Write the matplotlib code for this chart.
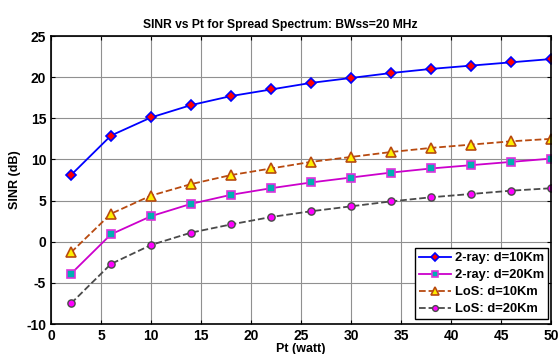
import matplotlib
matplotlib.use('Agg')
import matplotlib.pyplot as plt

plt.rcParams['font.family'] = ['Liberation Sans', 'DejaVu Sans']
plt.rcParams['font.weight'] = 'bold'
plt.rcParams['axes.unicode_minus'] = False

# Дані
pt_watt = [2, 6, 10, 14, 18, 22, 26, 30, 34, 38, 42, 46, 50]
sinr_2ray_10km = [8.1, 12.9, 15.1, 16.6, 17.7, 18.5, 19.3, 19.9, 20.5, 21.0, 21.4, 21.8, 22.2]
sinr_2ray_20km = [-3.9, 0.9, 3.1, 4.6, 5.7, 6.5, 7.2, 7.8, 8.4, 8.9, 9.3, 9.7, 10.1]
sinr_los_10km = [-1.3, 3.4, 5.6, 7.0, 8.1, 8.9, 9.7, 10.3, 10.9, 11.4, 11.8, 12.2, 12.5]
sinr_los_20km = [-7.5, -2.7, -0.4, 1.1, 2.1, 3.0, 3.7, 4.3, 4.9, 5.4, 5.8, 6.2, 6.5]

fig = plt.figure(figsize=(5.6, 3.54), dpi=100)
ax = fig.add_axes([51 / 560, 30 / 354, 500 / 560, 288 / 354])

ax.plot(pt_watt, sinr_2ray_10km, '-', color='blue', lw=1.3,
        marker='D', ms=5, mfc='red', mec='blue', mew=1.2, label='2-ray: d=10Km')
ax.plot(pt_watt, sinr_2ray_20km, '-', color='#cc00cc', lw=1.3,
        marker='s', ms=5.5, mfc='#00b0b0', mec='#dd33dd', mew=1.2, label='2-ray: d=20Km')
ax.plot(pt_watt, sinr_los_10km, '--', color='#b84a10', lw=1.3,
        marker='^', ms=6.5, mfc='#ffee00', mec='#b84a10', mew=1.2, label='LoS: d=10Km')
ax.plot(pt_watt, sinr_los_20km, '--', color='#4a4a4a', lw=1.3,
        marker='o', ms=5.2, mfc='#ff00ff', mec='#4a4a4a', mew=1.0, label='LoS: d=20Km')

ax.set_xlim(0, 50)
ax.set_ylim(-10, 25)
ax.set_xticks(range(0, 51, 5))
ax.set_yticks(range(-10, 26, 5))
ax.grid(True, color='#909090', lw=0.8)
ax.tick_params(direction='in', labelsize=10, length=3, top=True, right=True)
for lbl in ax.get_xticklabels() + ax.get_yticklabels():
    lbl.set_fontweight('bold')
for sp in ax.spines.values():
    sp.set_linewidth(1.2)

ax.set_title('SINR vs Pt for Spread Spectrum: BWss=20 MHz', fontsize=8.7,
             fontweight='bold', x=(280 - 51) / 500, pad=6)
ax.set_xlabel('Pt (watt)', fontsize=9, fontweight='bold', labelpad=0)
ax.set_ylabel('SINR (dB)', fontsize=9, fontweight='bold', labelpad=4)

leg = ax.legend(loc='lower right', bbox_to_anchor=(548 / 560, 1 - 319 / 354),
                bbox_transform=fig.transFigure, fontsize=9.3, fancybox=False,
                framealpha=1, edgecolor='black', borderpad=0.3, labelspacing=0.38,
                handlelength=2.5, handletextpad=0.3, borderaxespad=0, markerscale=0.8)
leg.get_frame().set_linewidth(1.0)
for t in leg.get_texts():
    t.set_fontweight('bold')

fig.savefig('out.png', dpi=100)
